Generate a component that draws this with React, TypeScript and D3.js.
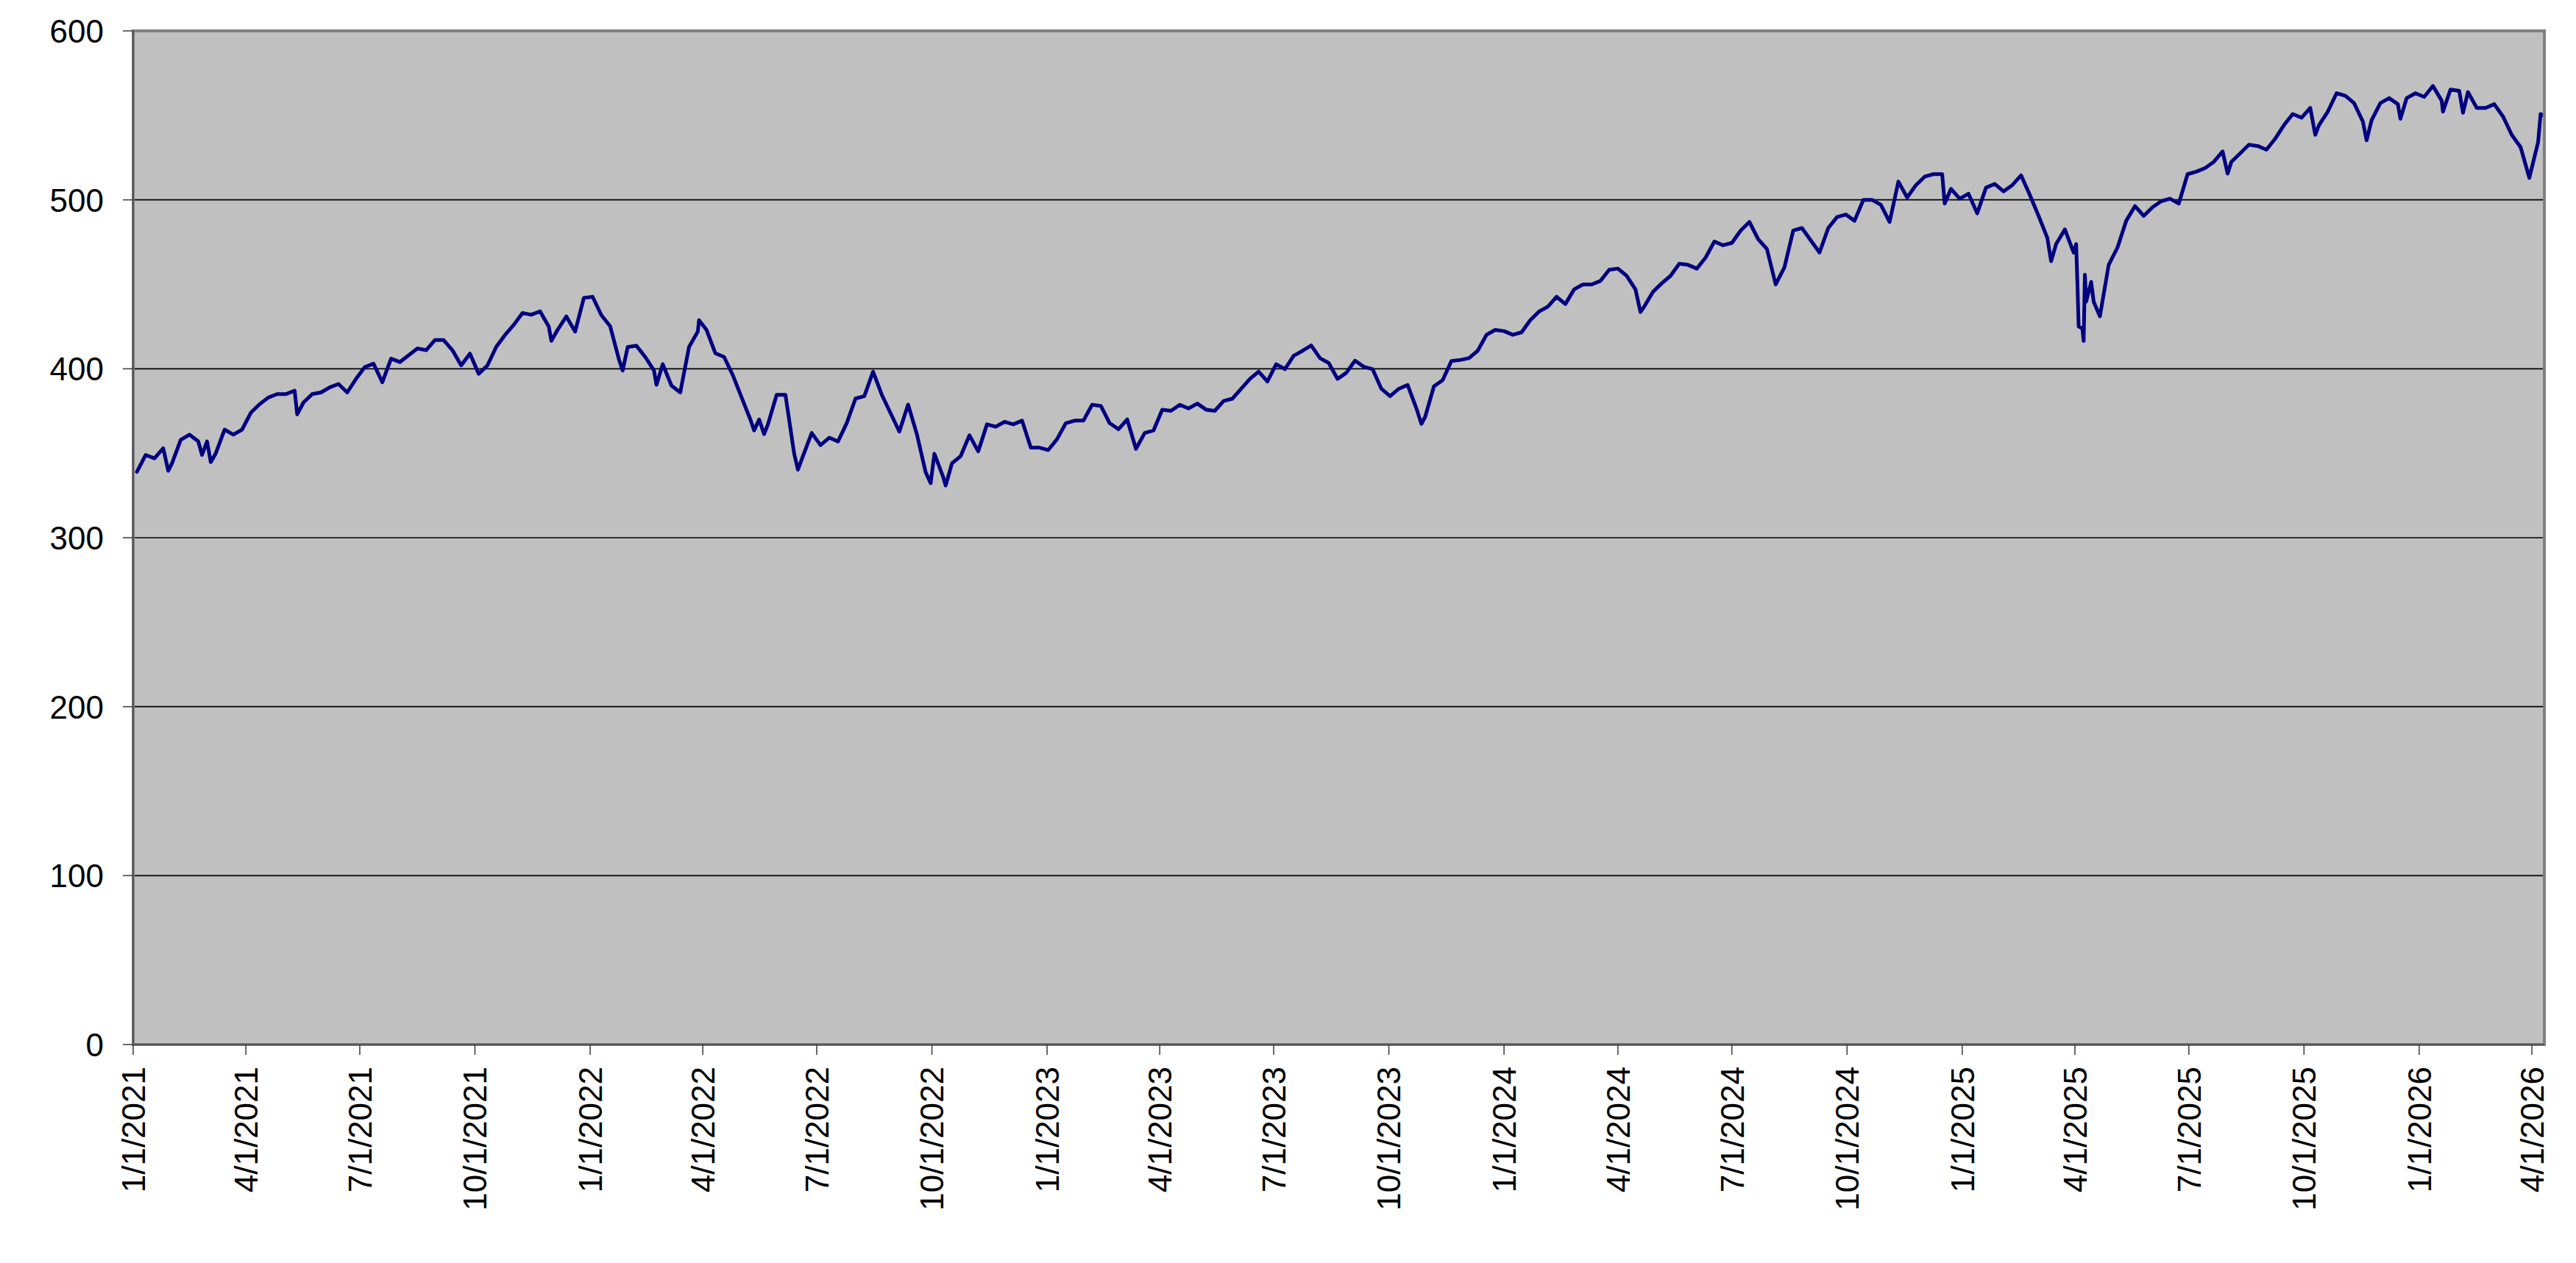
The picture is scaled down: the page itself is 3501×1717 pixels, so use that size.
import * as d3 from "d3";
import React from "react";

// weekly closes, sampled every Monday starting 2021-01-04
const firstWeek = "2021-01-04";
const weeks2021 = [
	339, 349, 347, 353, 344, 358, 361, 357, 357, 350, 364, 361, 364, 374, 379, 383, 385, 385, 387, 380,
	385, 386, 389, 391, 386, 394, 401, 403, 392, 406, 404, 408, 412, 411, 417, 417, 411, 402, 409, 397,
	402, 413, 420, 426, 433, 432, 434, 425, 423, 431, 422, 442,
];
const weeks2022 = [
	442.6, 431.7, 425.2, 405.6, 412.9, 413.6, 407, 399, 402.7, 390, 386, 412.9, 422, 423, 409.2, 407,
	396.2, 383, 370, 370, 367, 384.6, 384.6, 349.7, 348.3, 362, 354.8, 359.2, 357, 367.9, 382.4, 383.8,
	398.3, 384.6, 373.7, 362.8, 378.8, 361.3, 338.8, 349.7, 336, 344, 348.3, 360.6, 351.1, 367.1, 365.7,
	368.6, 367.1, 369.3, 353.3, 353.3,
];
const weeks2023 = [
	351.9, 358.4, 367.8, 369.3, 369.3, 378.7, 378, 367.8, 364.2, 370, 352.6, 362, 363.5, 375.8, 375.1,
	378.7, 376.5, 379.4, 375.8, 375.1, 380.9, 382.3, 388.1, 394, 398.3, 392.5, 402.7, 399.8, 407.7, 410.6,
	413.8, 406.3, 403.4, 394, 397.6, 404.8, 401.2, 399.8, 388.2, 383.8, 388.2, 390.4, 376.6, 371.5, 389.6,
	393.3, 404.6, 405.2, 406.3, 410.7, 420.1, 423,
];
const weeks2024 = [
	422.3, 420.1, 421.6, 428.8, 433.9, 436.8, 442.6, 438.3, 447, 449.9, 449.9, 452, 458.6, 459.3, 455, 447,
	436.8, 445.5, 450.6, 455, 462.2, 461.5, 459.3, 465.8, 475.3, 473.1, 474.5, 481.8, 486.9, 476.7, 470.9,
	449.9, 460.1, 481.8, 483.3, 476, 468.8, 483.3, 489.8, 491.3, 487.6, 500, 500, 497.1, 486.9, 510.8,
	501.4, 508.7, 513.7, 515.2, 515.2, 506.5,
];
const weeks2025 = [
	500.7, 503.6, 492, 507.2, 509.4, 505, 508.7, 514.5, 502.9, 490.5, 477.5, 473.8, 482.5, 468.8, 423.8,
	451.4, 431.1, 461.5, 471.7, 487.6, 496.3, 490.5, 495.6, 499.2, 500.7, 497.8, 515.2, 516.7, 518.8, 522.5,
	528.6, 522.5, 527.5, 532.6, 531.9, 529.7, 536.2, 544.2, 550.8, 548.6, 554.4, 544.2, 552.2, 563.1, 561.6,
	557.3, 546.4, 547.1, 557.3, 560.2, 556.6, 560.2,
];
const weeks2026 = [
	563.1, 560.9, 567.4, 558.7, 565.3, 564.5, 563.8, 554.4, 554.4, 556.6, 549.3, 538.4, 531.2, 513, 534.1,
];

// single days where the line spikes between the weekly samples
const spikeDates = [
	"2021-01-29", "2021-02-25", "2021-03-04", "2021-05-12", "2021-12-01", "2022-01-27", "2022-02-23",
	"2022-03-29", "2022-05-12", "2022-05-20", "2022-06-16", "2022-09-30", "2022-10-12", "2023-10-27",
	"2024-04-19", "2024-12-18", "2025-03-13", "2025-04-02", "2025-04-03", "2025-04-04", "2025-04-08",
	"2025-04-09", "2025-04-10", "2025-04-16", "2025-08-01", "2025-10-10", "2025-11-20", "2025-12-17",
	"2026-01-20", "2026-02-05", "2026-04-08", "2026-04-10",
];
const spikeValues = [
	339.6, 349, 344.7, 373, 416.5, 399, 390.5, 428.8, 363.5, 361.3, 340.3, 332.3, 330.9, 367.4, 433.6,
	497.8, 463.7, 473.8, 451, 425, 416.5, 455.7, 439.7, 439.7, 515.5, 538.5, 535.2, 548, 552.2, 551.5,
	550.8, 550,
];

const yTicks = [0, 100, 200, 300, 400, 500, 600];
const xTickLabels = [
	"1/1/2021", "4/1/2021", "7/1/2021", "10/1/2021", "1/1/2022", "4/1/2022", "7/1/2022", "10/1/2022",
	"1/1/2023", "4/1/2023", "7/1/2023", "10/1/2023", "1/1/2024", "4/1/2024", "7/1/2024", "10/1/2024",
	"1/1/2025", "4/1/2025", "7/1/2025", "10/1/2025", "1/1/2026", "4/1/2026",
];
const axisStart = "2021-01-01";
const axisEnd = "2026-04-11";

const W = 3501;
const H = 1717;
const margin = { top: 42, right: 43, bottom: 297, left: 181 };
const font = "'Liberation Sans', Arial, Helvetica, sans-serif";

const parseIso = d3.utcParse("%Y-%m-%d");
const parseTick = d3.utcParse("%m/%d/%Y");

type Pt = [Date, number];

const App: React.FC = () => {
	const innerW = W - margin.left - margin.right;
	const innerH = H - margin.top - margin.bottom;

	const series: Pt[] = [];
	const start = parseIso(firstWeek) as Date;
	[...weeks2021, ...weeks2022, ...weeks2023, ...weeks2024, ...weeks2025, ...weeks2026].forEach((v, i) =>
		series.push([d3.utcDay.offset(start, i * 7), v]),
	);
	spikeDates.forEach((d, i) => series.push([parseIso(d) as Date, spikeValues[i]]));
	series.sort((a, b) => +a[0] - +b[0]);

	const x = d3
		.scaleUtc()
		.domain([parseIso(axisStart) as Date, parseIso(axisEnd) as Date])
		.range([0, innerW]);
	const y = d3.scaleLinear().domain([0, 600]).range([innerH, 0]);

	const line = d3
		.line<Pt>()
		.x((d) => x(d[0]))
		.y((d) => y(d[1]));

	return (
		<svg
			width={W}
			height={H}
			style={{ position: "absolute", left: 0, top: 0, background: "#ffffff" }}
			fontFamily={font}>
			<g transform={`translate(${margin.left}, ${margin.top})`}>
				<rect x={0} y={0} width={innerW} height={innerH} fill="#c0c0c0" />
				{yTicks
					.filter((t) => t > 0 && t < 600)
					.map((t) => (
						<line key={t} x1={0} x2={innerW} y1={y(t)} y2={y(t)} stroke="#000000" strokeWidth={1.6} />
					))}
				<path
					d={line(series) || ""}
					fill="none"
					stroke="#000080"
					strokeWidth={5}
					strokeLinejoin="round"
					strokeLinecap="round"
				/>
				<rect x={0} y={0} width={innerW} height={innerH} fill="none" stroke="#808080" strokeWidth={4} />
				<line x1={0} x2={0} y1={0} y2={innerH} stroke="#555555" strokeWidth={2} />
				<line x1={0} x2={innerW} y1={innerH} y2={innerH} stroke="#555555" strokeWidth={2} />

				{yTicks.map((t) => (
					<g key={t} transform={`translate(0, ${y(t)})`}>
						<line x1={-14} x2={0} y1={0} y2={0} stroke="#444444" strokeWidth={1.6} />
						<text x={-40} dy="0.36em" textAnchor="end" fontSize={44} fill="#000000">
							{t}
						</text>
					</g>
				))}

				{xTickLabels.map((label) => {
					const tx = x(parseTick(label) as Date);
					return (
						<g key={label} transform={`translate(${tx}, ${innerH})`}>
							<line x1={0} x2={0} y1={0} y2={14} stroke="#444444" strokeWidth={1.6} />
							<text
								transform="translate(0, 30) rotate(-90)"
								dy="0.36em"
								textAnchor="end"
								fontSize={44}
								fill="#000000">
								{label}
							</text>
						</g>
					);
				})}
			</g>
		</svg>
	);
};

export default App;
